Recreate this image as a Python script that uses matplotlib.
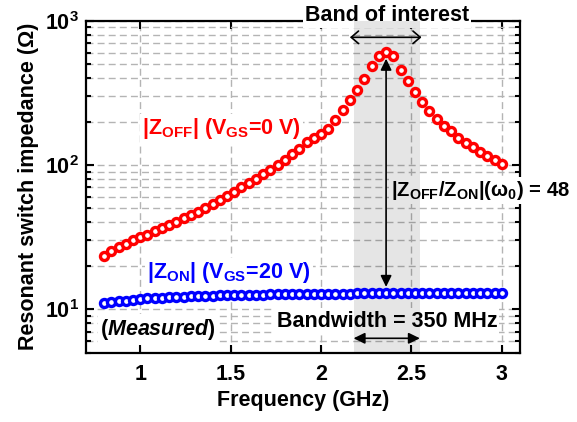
import numpy as np
import matplotlib
matplotlib.use("Agg")
import matplotlib.pyplot as plt
from matplotlib.ticker import LogLocator, FixedLocator, FuncFormatter, NullFormatter

plt.rcParams['font.family'] = ['Liberation Sans', 'DejaVu Sans']
plt.rcParams['font.weight'] = 'bold'
plt.rcParams['mathtext.fontset'] = 'custom'
plt.rcParams['mathtext.rm'] = 'Liberation Sans:bold'
plt.rcParams['mathtext.bf'] = 'Liberation Sans:bold'
plt.rcParams['mathtext.it'] = 'Liberation Sans:bold:italic'

# measured sweep, 0.8 - 3.0 GHz in 40 MHz steps
freq = np.linspace(0.8, 3.0, 56)

z_off = [23.3, 25.2, 26.9, 28.4, 30.1, 31.5, 32.9, 34.7, 36.4, 38.5,
         40.6, 42.9, 45.2, 47.6, 50.3, 53.6, 57.4, 61.4, 65.5, 70.2,
         74.8, 80.0, 86.3, 92.4, 100, 109, 119, 130, 145, 154,
         163, 179, 204, 239, 281, 333, 396, 486, 567, 604,
         565, 457, 380, 320, 273, 237, 207, 186, 172, 155,
         143, 133, 124, 115, 108, 102]

z_on = [11.1, 11.3, 11.4, 11.5, 11.65, 11.8, 11.9, 12.0, 12.05, 12.1,
        12.2, 12.25, 12.3, 12.35, 12.4, 12.45, 12.5, 12.5, 12.55, 12.6,
        12.6, 12.65, 12.65, 12.7, 12.7, 12.75, 12.75, 12.8, 12.8, 12.8,
        12.85, 12.85, 12.85, 12.85, 12.85, 12.9, 12.9, 12.9, 12.9, 12.9,
        12.9, 12.9, 12.9, 12.9, 12.9, 12.9, 12.9, 12.9, 12.9, 12.9,
        12.9, 12.9, 12.9, 12.9, 12.9, 12.9]

band = (2.18, 2.55)      # band of interest (GHz)
f0 = 2.36                # resonance
x_ticks = [1, 1.5, 2, 2.5, 3]
x_ticklabels = ['1', '1.5', '2', '2.5', '3']

fs = 15.5

fig = plt.figure(figsize=(5.77, 4.22), dpi=100)
ax = fig.add_axes([0.149, 0.164, 0.752, 0.787])

ax.set_yscale('log')
ax.set_xlim(0.7, 3.1)
ax.set_ylim(5, 1000)

ax.set_axisbelow(True)
ax.grid(True, which='both', axis='y', color='#b4b4b4', linestyle=(0, (5, 3)), lw=1)
ax.grid(True, which='major', axis='x', color='#b4b4b4', linestyle=(0, (5, 3)), lw=1)

ax.xaxis.set_major_locator(FixedLocator(x_ticks))
ax.set_xticklabels(x_ticklabels)
ax.yaxis.set_major_locator(LogLocator(base=10, numticks=10))
ax.yaxis.set_minor_locator(LogLocator(base=10, subs=np.arange(2, 10), numticks=20))
ax.yaxis.set_minor_formatter(NullFormatter())
ax.yaxis.set_major_formatter(FuncFormatter(lambda v, p: '10$^{\\mathrm{%d}}$' % round(np.log10(v))))

ax.tick_params(which='both', direction='in', top=True, right=True, width=1.5, labelsize=fs)
ax.tick_params(which='major', length=6)
ax.tick_params(which='minor', length=3.5)
ax.tick_params(axis='x', pad=8)
ax.tick_params(axis='y', pad=5)
for s in ax.spines.values():
    s.set_linewidth(1.6)
    s.set_zorder(1)

ax.set_xlabel('Frequency (GHz)', fontsize=fs, fontweight='bold', labelpad=4)
ax.set_ylabel('Resonant switch impedance (\u03a9)', fontsize=fs, fontweight='bold', labelpad=4)

# shaded band
ax.axvspan(band[0], band[1], color='k', alpha=0.1, lw=0, zorder=2)

ax.plot(freq, z_off, 'o', color='#ff0000', mfc='white', mec='#ff0000', ms=5.8, mew=2.4, zorder=3)
ax.plot(freq, z_on, 'o', color='#0000ff', mfc='white', mec='#0000ff', ms=5.8, mew=2.4, zorder=3)

wbox = dict(facecolor='white', edgecolor='none', pad=1.5)

# vertical ratio arrow (goes behind the ratio text)
ax.annotate('', xy=(f0, 545), xytext=(f0, 14.3),
            arrowprops=dict(arrowstyle='<|-|>,head_length=0.45,head_width=0.22', color='k',
                            lw=1.2, shrinkA=0, shrinkB=0, mutation_scale=15), zorder=1.2)

ax.text(2.385, 67, '|Z$_{\\mathrm{OFF}}$/Z$_{\\mathrm{ON}}$|(\u03c9$_{\\mathrm{0}}$) = 48',
        fontsize=14.6, fontweight='bold', color='k', ha='left', va='center',
        bbox=wbox, zorder=1.5, clip_on=False)

ax.text(1.01, 180, '|Z$_{\\mathrm{OFF}}$| (V$_{\\mathrm{GS}}$=0 V)', fontsize=fs, fontweight='bold',
        color='#ff0000', ha='left', va='center', bbox=wbox, zorder=1.5)
ax.text(1.04, 18, '|Z$_{\\mathrm{ON}}$| (V$_{\\mathrm{GS}}$=20 V)', fontsize=fs, fontweight='bold',
        color='#0000ff', ha='left', va='center', bbox=wbox, zorder=1.5)
ax.text(0.78, 7.3, '($\\mathit{Measured}$)', fontsize=fs, fontweight='bold',
        color='k', ha='left', va='center', bbox=wbox, zorder=1.5)
ax.text(2.365, 8.3, 'Bandwidth = 350 MHz', fontsize=fs, fontweight='bold',
        color='k', ha='center', va='center', bbox=wbox, zorder=1.5)
ax.text(2.365, 1.015, 'Band of interest', fontsize=fs, fontweight='bold', color='k',
        ha='center', va='center', transform=ax.get_xaxis_transform(),
        bbox=wbox, zorder=1.5, clip_on=False)

# band arrows
ax.annotate('', xy=(2.16, 767), xytext=(2.556, 767),
            arrowprops=dict(arrowstyle='<->,head_length=0.35,head_width=0.3', color='k',
                            lw=1.2, shrinkA=0, shrinkB=0, mutation_scale=15), zorder=4)
ax.annotate('', xy=(band[0], 6.3), xytext=(2.547, 6.3),
            arrowprops=dict(arrowstyle='<|-|>,head_length=0.45,head_width=0.22', color='k',
                            lw=1.2, shrinkA=0, shrinkB=0, mutation_scale=15), zorder=4)

fig.savefig('out.png', dpi=100)
